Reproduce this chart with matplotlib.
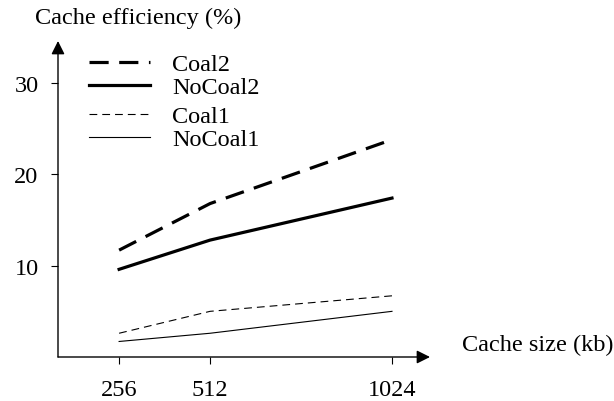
import matplotlib.pyplot as plt

plt.rcParams['font.family'] = 'Liberation Serif'

## DATA
sizes = [256, 512, 1024]
coal2 = [11.7, 16.8, 23.8]
nocoal2 = [9.6, 12.8, 17.4]
coal1 = [2.6, 5.0, 6.7]
nocoal1 = [1.7, 2.6, 5.0]
yticks = [10, 20, 30]

FS = 17.5

######### FIGURE ##########
fig = plt.figure(figsize=(6.14, 4.02), dpi=100)
ax = fig.add_axes([58/614, 44/402, 372/614, 316/402])
ax.set_xlim(84, 1131)
ax.set_ylim(0, 34.6)

for s in ax.spines.values():
    s.set_visible(False)

## AXES WITH ARROWS
arrow = dict(arrowstyle='-|>', color='k', lw=1, mutation_scale=20, shrinkA=0, shrinkB=0)
ax.annotate('', xy=(1, 0), xytext=(0, 0), xycoords='axes fraction', arrowprops=arrow)
ax.annotate('', xy=(0, 1), xytext=(0, 0), xycoords='axes fraction', arrowprops=arrow)

## LINES
l1, = ax.plot(sizes, coal2, color='k', lw=2.3, dashes=(6, 3.3))
l2, = ax.plot(sizes, nocoal2, color='k', lw=2.3)
l3, = ax.plot(sizes, coal1, color='k', lw=0.8, dashes=(7, 4.5))
l4, = ax.plot(sizes, nocoal1, color='k', lw=0.8)

ax.set_xticks(sizes)
ax.set_xticklabels([str(s) for s in sizes])
ax.set_yticks(yticks)
ax.tick_params(axis='both', labelsize=FS, length=5, width=0.8, direction='out')
ax.tick_params(axis='y', pad=9)
ax.tick_params(axis='x', pad=11)

## LEGENDS (two blocks, slightly separated)
kw = dict(loc='upper left', frameon=False, fontsize=FS, handlelength=2.55,
          handletextpad=0.9, labelspacing=0.04, borderaxespad=0, borderpad=0)
leg1 = ax.legend([l1, l2], ['Coal2', 'NoCoal2'], bbox_to_anchor=(0.082, 0.962), **kw)
ax.add_artist(leg1)
ax.legend([l3, l4], ['Coal1', 'NoCoal1'], bbox_to_anchor=(0.082, 0.796), **kw)

## AXIS LABELS
fig.text(35/614, 1 - 18/402, 'Cache efficiency (%)', fontsize=FS, va='center', ha='left')
fig.text(462/614, 1 - 345/402, 'Cache size (kb)', fontsize=FS, va='center', ha='left')

plt.savefig('out.png', dpi=100)
